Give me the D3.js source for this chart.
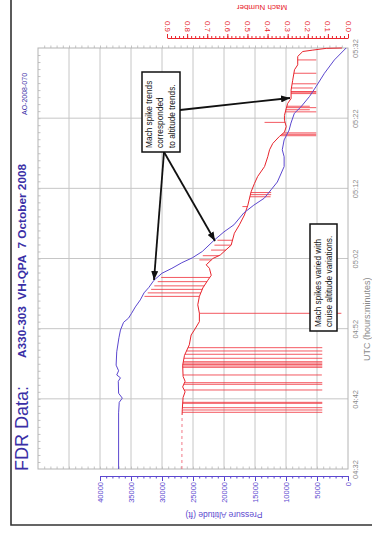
<!DOCTYPE html>
<html>
<head>
<meta charset="utf-8">
<script src="https://cdn.jsdelivr.net/npm/d3@7"></script>
<style>
  html, body { margin: 0; padding: 0; background: #fff; }
  svg { display: block; font-family: "Liberation Sans", Arial, sans-serif; }
  text { white-space: pre; }
</style>
</head>
<body>
<svg id="chart" width="372" height="544"></svg>
<script>
// Time is given in minutes after 04:32 UTC.
const timeTicks  = [0, 10, 20, 30, 40, 50, 60];
const timeLabels = ["04:32", "04:42", "04:52", "05:02", "05:12", "05:22", "05:32"];
const altTicks   = [0, 5000, 10000, 15000, 20000, 25000, 30000, 35000, 40000];
const machTicks  = [0, 0.1, 0.2, 0.3, 0.4, 0.5, 0.6, 0.7, 0.8, 0.9];

// Pressure altitude (ft)
const altTime  = [0, 8, 9.5, 10.1, 10.8, 12.5, 13.0, 13.4, 14.0, 14.8, 16.7, 18.7, 19.8, 20.9, 21.5,
                  22.2, 23.1, 24.1, 25.1, 25.9, 26.9, 27.9, 28.6, 29.4, 30.1, 31.0, 32.6, 33.8, 34.8,
                  36.5, 37.6, 38.6, 39.8, 40.9, 43.1, 44.5, 45.5, 46.9, 48.3, 49.3, 50.7, 51.6, 53.1,
                  54.5, 56.4, 58.3, 60];
const altitude = [37000, 37000, 36900, 36400, 37000, 37050, 36700, 37300, 37000, 37400, 37300, 36950,
                  36700, 36200, 35400, 34900, 34300, 33500, 32900, 32100, 31300, 30000, 28400, 26800,
                  25100, 23500, 21600, 20000, 18400, 16800, 15200, 13500, 12400, 11400, 10300, 10300,
                  10600, 10300, 9500, 9200, 8650, 7600, 6200, 5150, 3800, 2200, 300];

// Mach number (underlying trace)
const machTime  = [0, 4, 7.7, 8.5, 10.2, 11, 11.7, 12.5, 13.2, 14.8, 16.2, 17.7, 19.1, 19.8, 21.0, 22.2,
                   23.4, 24.6, 25.8, 26.9, 27.6, 28.6, 29.1, 30.0, 30.5, 31.9, 33.6, 34.8, 36.2, 37.6,
                   39.5, 40.7, 41.7, 43.1, 44.5, 45.5, 46.4, 47.4, 48.0, 48.8, 49.7, 50.4, 51.4, 52.1,
                   52.8, 54.0, 55.4, 56.9, 57.6, 58.8, 59.5, 59.7, 59.95, 60];
const machValue = [0.826, 0.826, 0.825, 0.824, 0.82, 0.81, 0.822, 0.81, 0.82, 0.822, 0.813, 0.789, 0.78,
                   0.764, 0.739, 0.739, 0.747, 0.739, 0.722, 0.697, 0.68, 0.689, 0.705, 0.672, 0.635,
                   0.581, 0.565, 0.54, 0.515, 0.498, 0.482, 0.465, 0.449, 0.415, 0.399, 0.39, 0.374,
                   0.341, 0.316, 0.307, 0.316, 0.316, 0.307, 0.3, 0.283, 0.283, 0.275, 0.266, 0.25,
                   0.25, 0.225, 0.175, 0.108, 0.03];
const machSparseUntil = 7.7;   // early recording is intermittent

// Mach spikes: time and spike value
const spikeTime = [8.08, 8.41, 8.74, 9.36, 9.5, 11.26, 12.07, 12.3, 13.4, 14.49, 14.68, 14.9, 15.1, 15.29,
                   15.78, 16.35, 16.82, 17.29, 22.19,
                   24.6, 25.1, 25.6, 26.1, 26.7, 27.3,
                   29.8, 30.4, 31.2, 31.9, 32.6,
                   37.4, 38.8, 39.1, 39.4,
                   47.5, 47.7, 47.9, 49.4, 50.9, 51.2, 51.5, 51.7, 53.5, 53.7, 53.8, 54.3, 54.9, 56.4, 58.3];
const spikeMach = [0.128, 0.128, 0.128, 0.128, 0.128, 0.128, 0.128, 0.128, 0.13, 0.128, 0.128, 0.128, 0.128,
                   0.128, 0.128, 0.128, 0.128, 0.128, 0.033,
                   1.012, 0.996, 0.979, 0.963, 0.946, 0.929,
                   0.739, 0.722, 0.681, 0.664, 0.649,
                   0.525, 0.385, 0.382, 0.382,
                   0.158, 0.158, 0.158, 0.415, 0.158, 0.19, 0.158, 0.19, 0.158, 0.158, 0.158, 0.175,
                   0.158, 0.158, 0.158];

const svg = d3.select("#chart");
const plot = { left: 38, right: 348, top: 48, bottom: 469 };

const xAlt  = d3.scaleLinear().domain([50000, 0]).range([plot.left, plot.right]);
const xMach = d3.scaleLinear().domain([0.9, 0]).range([167, plot.right]);
const yTime = d3.scaleLinear().domain([0, 60]).range([plot.bottom, plot.top]);

const purple = "#5b47cf", red = "#e8242c", ink = "#3a2fa6", grey = "#8a8a8a";

// outer frame
svg.append("path").attr("d", "M11,0 V525 H372").attr("fill", "none")
  .attr("stroke", "#333").attr("stroke-width", 1.6);

// plot area, grid and border ticks
const g = svg.append("g");
g.append("rect").attr("x", plot.left).attr("y", plot.top)
  .attr("width", plot.right - plot.left).attr("height", plot.bottom - plot.top)
  .attr("fill", "#fff");

g.append("g").attr("transform", `translate(0,${plot.top})`)
  .call(d3.axisTop(xAlt).tickValues(d3.range(1000, 50000, 1000)).tickSize(2.5).tickFormat(""))
  .call(a => a.select(".domain").remove())
  .selectAll("line").attr("stroke", "#c4c4c4");
g.append("g").attr("transform", `translate(0,${plot.bottom})`)
  .call(d3.axisTop(xAlt).tickValues(d3.range(1000, 50000, 1000)).tickSize(2.5).tickFormat(""))
  .call(a => a.select(".domain").remove())
  .selectAll("line").attr("stroke", "#c4c4c4");
g.append("g").attr("transform", `translate(${plot.left},0)`)
  .call(d3.axisRight(yTime).tickValues(d3.range(1, 60, 1)).tickSize(2.5).tickFormat(""))
  .call(a => a.select(".domain").remove())
  .selectAll("line").attr("stroke", "#c4c4c4");

g.append("g").selectAll("line").data(d3.range(5000, 50000, 5000)).join("line")
  .attr("x1", d => xAlt(d)).attr("x2", d => xAlt(d))
  .attr("y1", plot.top).attr("y2", plot.bottom)
  .attr("stroke", "#c6c6c6").attr("stroke-width", 1);
g.append("g").selectAll("line").data(timeTicks.slice(1, -1)).join("line")
  .attr("x1", plot.left).attr("x2", plot.right)
  .attr("y1", d => yTime(d)).attr("y2", d => yTime(d))
  .attr("stroke", "#c6c6c6").attr("stroke-width", 1);
g.append("rect").attr("x", plot.left).attr("y", plot.top)
  .attr("width", plot.right - plot.left).attr("height", plot.bottom - plot.top)
  .attr("fill", "none").attr("stroke", "#b4b4b4").attr("stroke-width", 1);

// time axis labels
const timeAxis = svg.append("g").attr("transform", `translate(${plot.right},0)`)
  .call(d3.axisRight(yTime).tickValues(timeTicks).tickSize(0)
    .tickFormat((d, i) => timeLabels[i]));
timeAxis.select(".domain").remove();
timeAxis.selectAll("text")
  .attr("fill", grey).attr("font-size", 7.5)
  .attr("x", null).attr("dy", null).attr("text-anchor", "middle")
  .attr("transform", "translate(7,0) rotate(-90) translate(0,2.8)");

svg.append("text").attr("transform", "translate(370,361) rotate(-90)")
  .attr("fill", grey).attr("font-size", 9).text("UTC (hours:minutes)");

// altitude axis
const altAxisScale = d3.scaleLinear().domain([40000, 0]).range([xAlt(40000), xAlt(0)]);
const altAxis = svg.append("g").attr("transform", "translate(0,476)");
altAxis.call(d3.axisBottom(altAxisScale).tickValues(d3.range(0, 40001, 1000)).tickSize(2.5).tickFormat(""))
  .call(a => a.select(".domain").remove());
altAxis.append("g")
  .call(d3.axisBottom(altAxisScale).tickValues(altTicks).tickSize(5).tickSizeOuter(0)
    .tickFormat(d3.format("d")));
altAxis.selectAll("line").attr("stroke", purple);
altAxis.selectAll(".domain").attr("stroke", purple).attr("stroke-width", 1.2);
altAxis.selectAll("text")
  .attr("fill", purple).attr("font-size", 7.5)
  .attr("y", null).attr("dy", null).attr("text-anchor", "end")
  .attr("transform", "translate(0,6) rotate(-90) translate(0,2.7)");

svg.append("text").attr("transform", `translate(${(xAlt(40000) + xAlt(0)) / 2},512) rotate(180)`)
  .attr("text-anchor", "middle").attr("fill", purple).attr("font-size", 8.5)
  .text("Pressure Altitude (ft)");

// mach axis
const machAxis = svg.append("g").attr("transform", "translate(0,38)");
machAxis.call(d3.axisTop(xMach).tickValues(d3.range(0, 0.901, 0.02)).tickSize(2).tickFormat(""))
  .call(a => a.select(".domain").remove());
machAxis.append("g")
  .call(d3.axisTop(xMach).tickValues(machTicks).tickSize(4).tickSizeOuter(0)
    .tickFormat(d3.format(".1f")));
machAxis.selectAll("line").attr("stroke", red);
machAxis.selectAll(".domain").attr("stroke", red);
machAxis.selectAll("text")
  .attr("fill", red).attr("font-size", 8)
  .attr("y", null).attr("dy", null).attr("text-anchor", "end")
  .attr("transform", "translate(0,-6) rotate(90) translate(0,2.9)");

svg.append("text").attr("transform", "translate(262,3) rotate(180)")
  .attr("text-anchor", "middle").attr("dy", "-0.25em").attr("fill", red).attr("font-size", 8)
  .text("Mach Number");

// clip to plot
svg.append("clipPath").attr("id", "plotClip").append("rect")
  .attr("x", plot.left).attr("y", plot.top - 2)
  .attr("width", plot.right - plot.left + 1).attr("height", plot.bottom - plot.top + 2);
const data = svg.append("g").attr("clip-path", "url(#plotClip)");

// mach spikes
const machAt = d3.scaleLinear().domain(machTime).range(machValue);
data.append("g").selectAll("line").data(spikeTime).join("line")
  .attr("x1", d => xMach(machAt(d))).attr("x2", (d, i) => xMach(spikeMach[i]))
  .attr("y1", d => yTime(d)).attr("y2", d => yTime(d))
  .attr("stroke", "#f0303a").attr("stroke-opacity", 0.8).attr("stroke-width", 1);

// mach trace
const machPts = machTime.map((t, i) => [t, machValue[i]]);
const machLine = d3.line().x(d => xMach(d[1])).y(d => yTime(d[0]));
data.append("path").datum(machPts.filter(d => d[0] <= machSparseUntil))
  .attr("d", machLine).attr("fill", "none").attr("stroke", "#f06070")
  .attr("stroke-width", 1.2).attr("stroke-opacity", 0.7).attr("stroke-dasharray", "3,3");
data.append("path").datum(machPts.filter(d => d[0] >= machSparseUntil))
  .attr("d", machLine).attr("fill", "none").attr("stroke", red).attr("stroke-width", 1);

// altitude trace
const altPts = altTime.map((t, i) => [t, altitude[i]]);
data.append("path").datum(altPts)
  .attr("d", d3.line().x(d => xAlt(d[1])).y(d => yTime(d[0])))
  .attr("fill", "none").attr("stroke", purple).attr("stroke-width", 1);

// titles
svg.append("text").attr("transform", "translate(28,471) rotate(-90)")
  .attr("fill", ink).attr("font-size", 18).text("FDR Data:");
svg.append("text").attr("transform", "translate(26,358) rotate(-90)")
  .attr("fill", ink).attr("font-size", 11.8).attr("font-weight", "bold")
  .text("A330-303  VH-QPA  7 October 2008");
svg.append("text").attr("transform", "translate(27,115) rotate(-90)")
  .attr("fill", ink).attr("font-size", 7).text("AO-2008-070");

// annotations
const defs = svg.append("defs");
defs.append("marker").attr("id", "head").attr("viewBox", "0 0 9 7")
  .attr("refX", 9).attr("refY", 3.5).attr("markerWidth", 9).attr("markerHeight", 7)
  .attr("markerUnits", "userSpaceOnUse").attr("orient", "auto")
  .append("path").attr("d", "M0,0 L9,3.5 L0,7 Z").attr("fill", "#111");

const arrows = [
  [[180, 110], [290, 98]],
  [[164, 152], [154, 280]],
  [[164, 152], [215, 241]]
];
svg.append("g").selectAll("line").data(arrows).join("line")
  .attr("x1", d => d[0][0]).attr("y1", d => d[0][1])
  .attr("x2", d => d[1][0]).attr("y2", d => d[1][1])
  .attr("stroke", "#111").attr("stroke-width", 1.8).attr("marker-end", "url(#head)");

function noteBox(x, y, w, h, lines, baseX, startY, step) {
  svg.append("rect").attr("x", x).attr("y", y).attr("width", w).attr("height", h)
    .attr("fill", "#fff").attr("stroke", "#111").attr("stroke-width", 1.5);
  lines.forEach((s, i) => {
    svg.append("text").attr("transform", `translate(${baseX + i * step},${startY}) rotate(-90)`)
      .attr("fill", "#111").attr("font-size", 8.3).text(s);
  });
}
noteBox(142, 72, 38, 80, ["Mach spike trends", "corresponded", "to altitude trends."], 151.5, 148, 11.5);
noteBox(310, 224, 27, 107, ["Mach spikes varied with", "cruise altitude variations."], 321, 327, 11);
</script>
</body>
</html>
